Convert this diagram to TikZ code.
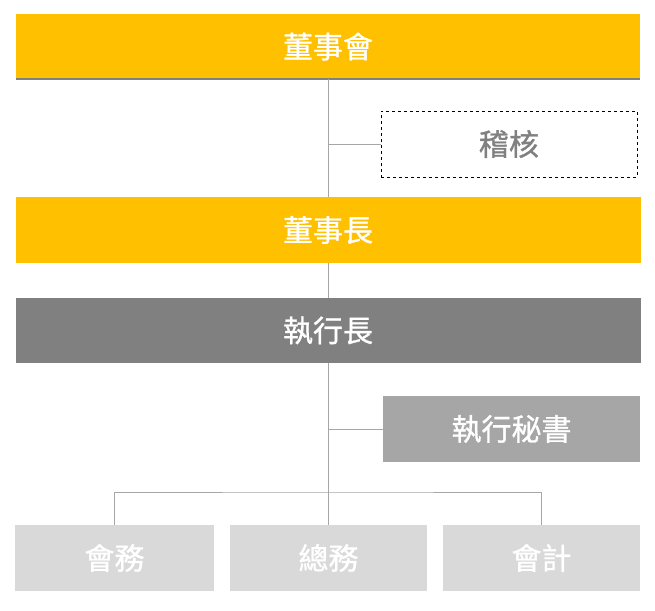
\documentclass[tikz,border=0pt]{standalone}
\usepackage{fontspec}
\newfontfamily\cjk{Noto Sans CJK TC}[FakeBold=1]
\definecolor{gold}{HTML}{FFC000}
\definecolor{darkg}{HTML}{808080}
\definecolor{midg}{HTML}{A6A6A6}
\definecolor{lightg}{HTML}{D9D9D9}
\definecolor{linkg}{HTML}{A6A6A6}
\begin{document}
\begin{tikzpicture}[x=1pt,y=-1pt,
  box/.style={rectangle, inner sep=0pt, outer sep=0pt, font=\cjk\fontsize{30}{30}\selectfont, text=white},
  link/.style={draw=linkg, line width=1pt}]
\useasboundingbox (0,0) rectangle (655,610);
\node[box, fill=gold, minimum width=624pt, minimum height=65pt] (bod) at (328,46.5) {董事會};
\draw[darkg, line width=1.2pt] (bod.south west) -- (bod.south east);
\node[box, fill=white, draw=black, dashed, line width=0.6pt, text=darkg, minimum width=256pt, minimum height=66pt] (audit) at (509,144) {稽核};
\node[box, fill=gold, minimum width=625pt, minimum height=66pt] (chair) at (328,230) {董事長};
\node[box, fill=darkg, minimum width=625pt, minimum height=65pt] (ceo) at (328,330.5) {執行長};
\node[box, fill=midg, minimum width=257pt, minimum height=66pt] (sec) at (511.5,429) {執行秘書};
\node[box, fill=lightg, minimum width=199pt, minimum height=66pt] (b1) at (114.5,558) {會務};
\node[box, fill=lightg, minimum width=197pt, minimum height=66pt] (b2) at (328.5,558) {總務};
\node[box, fill=lightg, minimum width=197pt, minimum height=66pt] (b3) at (541.5,558) {會計};
\coordinate (bus) at (328,492);
\draw[link] (bod.south) -- (chair.north);
\draw[link] (audit.west) -- (audit.west -| bod.south);
\draw[link] (chair.south) -- (ceo.north);
\draw[link] (ceo.south) -- (ceo.south |- b2.north);
\draw[link] (sec.west) -- (sec.west -| ceo.south);
\draw[link] (b1.north) |- (bus) -| (b3.north);
\end{tikzpicture}
\end{document}
